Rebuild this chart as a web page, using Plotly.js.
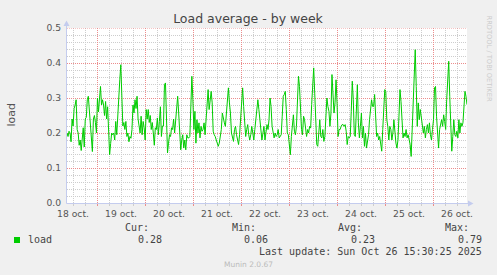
<!DOCTYPE html>
<html>
<head>
<meta charset="utf-8">
<script src="https://cdn.plot.ly/plotly-3.0.1.min.js"></script>
<style>html,body{margin:0;padding:0;background:#F0F0F0;overflow:hidden}</style>
</head>
<body>
<div id="chart" style="width:497px;height:275px"></div>
<script>
// ---------------- data ----------------
const chartTitle = "Load average - by week";
const yAxisTitle = "load";
const seriesName = "load";
const rangeStart = [2025, 9, 18, 9, 0];   // Oct 18 09:00
const rangeEnd   = [2025, 9, 26, 17, 0];  // Oct 26 17:00
const yTickVals = [0, 0.1, 0.2, 0.3, 0.4, 0.5];

const loadOct18to20 = [0.20, 0.19, 0.205, 0.20, 0.175, 0.24, 0.22, 0.27, 0.28, 0.295,
  0.21, 0.20, 0.165, 0.18, 0.15, 0.19, 0.215, 0.16, 0.24, 0.245,
  0.295, 0.305, 0.27, 0.22, 0.18, 0.147, 0.24, 0.25, 0.23, 0.20,
  0.30, 0.26, 0.297, 0.333, 0.28, 0.295, 0.28, 0.25, 0.29, 0.24,
  0.275, 0.21, 0.138, 0.17, 0.20, 0.195, 0.20, 0.18, 0.233, 0.195,
  0.257, 0.333, 0.352, 0.395, 0.31, 0.22, 0.23, 0.21, 0.233, 0.19,
  0.20, 0.175, 0.19, 0.185, 0.21, 0.28, 0.257, 0.295, 0.27, 0.305,
  0.24, 0.215, 0.20, 0.248, 0.195, 0.233, 0.215, 0.18, 0.267, 0.24,
  0.267, 0.23, 0.25, 0.21, 0.23, 0.20, 0.165, 0.215, 0.21, 0.243,
  0.195, 0.233, 0.275, 0.19, 0.22, 0.22, 0.338, 0.343, 0.23, 0.143];

const loadOct20to23 = [0.171, 0.195, 0.19, 0.215, 0.21, 0.24, 0.20, 0.243, 0.275, 0.305,
  0.257, 0.20, 0.152, 0.18, 0.195, 0.157, 0.18, 0.152, 0.195, 0.186,
  0.186, 0.19, 0.295, 0.362, 0.295, 0.21, 0.262, 0.171, 0.238, 0.20,
  0.229, 0.186, 0.219, 0.205, 0.21, 0.229, 0.195, 0.238, 0.267, 0.324,
  0.267, 0.30, 0.319, 0.286, 0.205, 0.195, 0.19, 0.18, 0.171, 0.162,
  0.171, 0.19, 0.21, 0.257, 0.238, 0.229, 0.219, 0.257, 0.295, 0.329,
  0.286, 0.257, 0.20, 0.19, 0.176, 0.21, 0.219, 0.195, 0.18, 0.167,
  0.195, 0.238, 0.286, 0.329, 0.276, 0.219, 0.19, 0.21, 0.224, 0.195,
  0.18, 0.195, 0.219, 0.20, 0.18, 0.21, 0.238, 0.262, 0.295, 0.267,
  0.238, 0.205, 0.18, 0.20, 0.219, 0.18, 0.20, 0.224, 0.21, 0.238,
  0.30, 0.276, 0.219, 0.195, 0.186, 0.20, 0.19, 0.195, 0.21, 0.186,
  0.19, 0.195, 0.248, 0.305, 0.31, 0.319, 0.267, 0.20, 0.195, 0.171,
  0.138, 0.19, 0.238, 0.252, 0.205, 0.195, 0.219, 0.286, 0.362, 0.333,
  0.257, 0.21, 0.195, 0.248, 0.238, 0.219, 0.19, 0.21, 0.20, 0.219,
  0.214, 0.281, 0.343, 0.386, 0.314, 0.219, 0.167, 0.162, 0.205, 0.238,
  0.19, 0.186, 0.21, 0.176, 0.19, 0.238, 0.30, 0.276, 0.262];

const loadOct23to26 = [0.219, 0.257, 0.367, 0.305, 0.257, 0.286, 0.352, 0.286, 0.19, 0.21,
  0.21, 0.219, 0.224, 0.224, 0.219, 0.224, 0.205, 0.167, 0.19, 0.186,
  0.19, 0.262, 0.348, 0.295, 0.195, 0.19, 0.281, 0.338, 0.229, 0.186,
  0.219, 0.257, 0.186, 0.219, 0.162, 0.20, 0.157, 0.171, 0.195, 0.238,
  0.267, 0.295, 0.276, 0.276, 0.31, 0.252, 0.19, 0.20, 0.18, 0.19,
  0.162, 0.148, 0.21, 0.252, 0.324, 0.319, 0.238, 0.219, 0.18, 0.219,
  0.21, 0.18, 0.20, 0.238, 0.20, 0.171, 0.157, 0.18, 0.248, 0.324,
  0.29, 0.219, 0.186, 0.20, 0.19, 0.21, 0.186, 0.195, 0.18, 0.167,
  0.133, 0.21, 0.286, 0.381, 0.438, 0.333, 0.219, 0.286, 0.238, 0.267,
  0.238, 0.21, 0.20, 0.219, 0.186, 0.21, 0.224, 0.20, 0.229, 0.195,
  0.18, 0.21, 0.238, 0.329, 0.333, 0.248, 0.195, 0.157, 0.21, 0.229,
  0.238, 0.219, 0.252, 0.233, 0.21, 0.295, 0.367, 0.405, 0.305, 0.186,
  0.148, 0.19, 0.238, 0.195, 0.19, 0.205, 0.186, 0.238, 0.20, 0.229,
  0.219, 0.229, 0.276, 0.319, 0.305, 0.281];

const statLabels = ["Cur:", "Min:", "Avg:", "Max:"];
const statValues = ["0.28", "0.06", "0.23", "0.79"];
const lastUpdate = "Last update: Sun Oct 26 15:30:25 2025";
const footerText = "Munin 2.0.67";
const sideText = "RRDTOOL / TOBI OETIKER";

// ---------------- build ----------------
const loadValues = loadOct18to20.concat(loadOct20to23, loadOct23to26);
const t0 = Date.UTC.apply(null, rangeStart);
const t1 = Date.UTC.apply(null, rangeEnd);
const step = (t1 - t0) / (loadValues.length - 1);
const times = loadValues.map((v, i) => t0 + i * step);

const W = 497, H = 275, L = 67, R = 30, T = 28, B = 72;
const PW = W - L - R, PH = H - T - B;
const px = x => (x - L) / PW;
const py = y => (H - B - y) / PH;

const majorGrid = '#EC8C8C';
const minorGrid = '#CDCDCD';
const axisBlue = '#C4CCEE';
const dotDash = '1px,1px';

const statLabelRight = [150, 256.7, 362.7, 470];
const statValueRight = [162.7, 269.3, 375.7, 482.7];

const mono = {family: 'DejaVu Sans Mono', size: 10, color: '#444'};
const ann = [];
function addText(text, x, y, opts) {
  ann.push(Object.assign({text: text, xref: 'paper', yref: 'paper', x: px(x), y: py(y),
    showarrow: false, borderpad: 0, xanchor: 'left', yanchor: 'middle', font: mono}, opts || {}));
}
addText(yAxisTitle, 11, 114.5, {textangle: -90, xanchor: 'center', font: {family: 'DejaVu Sans', size: 11, color: '#555'}});
addText(sideText, 488.5, 58, {textangle: 90, xanchor: 'center', font: {family: 'DejaVu Sans', size: 6.7, color: '#CCCCCC'}});
statLabels.forEach((s, i) => addText(s, statLabelRight[i], 227.5, {xanchor: 'right'}));
addText(seriesName, 26.7, 239.5);
statValues.forEach((s, i) => addText(s, statValueRight[i], 239.5, {xanchor: 'right'}));
addText(lastUpdate, 482.7, 251.5, {xanchor: 'right'});
addText(footerText, 248, 264, {xanchor: 'center', font: {family: 'DejaVu Sans', size: 7.5, color: '#BBBBBB'}});

const shapes = [
  // top major grid line at 0.5
  {type: 'line', xref: 'paper', yref: 'y', x0: 0, x1: 1, y0: 0.5, y1: 0.5, line: {color: majorGrid, width: 1, dash: dotDash}},
  // y axis line with arrow
  {type: 'line', xref: 'paper', yref: 'paper', x0: px(66.5), x1: px(66.5), y0: py(203.5), y1: py(24), line: {color: axisBlue, width: 1}},
  {type: 'path', xref: 'paper', yref: 'paper', path: `M ${px(63.5)} ${py(26)} L ${px(69.5)} ${py(26)} L ${px(66.5)} ${py(20.5)} Z`, fillcolor: axisBlue, line: {width: 0}},
  // x axis line with arrow
  {type: 'line', xref: 'paper', yref: 'paper', x0: px(66.5), x1: px(470), y0: py(203.5), y1: py(203.5), line: {color: axisBlue, width: 1}},
  {type: 'path', xref: 'paper', yref: 'paper', path: `M ${px(468)} ${py(200.5)} L ${px(468)} ${py(206.5)} L ${px(473.5)} ${py(203.5)} Z`, fillcolor: axisBlue, line: {width: 0}},
  // legend swatch
  {type: 'rect', xref: 'paper', yref: 'paper', x0: px(14), x1: px(20), y0: py(243), y1: py(237), fillcolor: '#00CC00', line: {width: 0}}
];

const data = [{
  type: 'scatter', mode: 'lines', x: times, y: loadValues, name: seriesName,
  line: {color: '#00CC00', width: 1}, hoverinfo: 'skip'
}];

const layout = {
  width: W, height: H,
  margin: {l: L, r: R, t: T, b: B, pad: 0},
  paper_bgcolor: '#F0F0F0', plot_bgcolor: '#FFFFFF',
  showlegend: false,
  font: {family: 'DejaVu Sans', color: '#555'},
  title: {text: chartTitle, xref: 'container', yref: 'container', x: 248 / W, y: 1 - 19 / H,
    xanchor: 'center', yanchor: 'middle', font: {family: 'DejaVu Sans', size: 12.5, color: '#444'}},
  xaxis: {
    type: 'date', range: [t0, t1], tick0: '2025-10-18', dtick: 86400000,
    ticklabelmode: 'period', tickformat: '%d oct.',
    showgrid: true, gridcolor: majorGrid, griddash: dotDash, gridwidth: 1,
    showline: false, zeroline: false,
    ticks: 'outside', ticklen: 2, tickcolor: majorGrid,
    tickfont: {family: 'DejaVu Sans', size: 9.2, color: '#555'},
    minor: {tick0: '2025-10-18', dtick: 6 * 3600000, showgrid: true, gridcolor: minorGrid, griddash: dotDash,
      ticks: 'outside', ticklen: 2, tickcolor: minorGrid},
    fixedrange: true
  },
  yaxis: {
    range: [0, 0.5], tickvals: yTickVals, tickformat: '.1f',
    showgrid: true, gridcolor: majorGrid, griddash: dotDash, gridwidth: 1,
    showline: false, zeroline: false, ticks: '', ticklabelstandoff: 5,
    tickfont: {family: 'DejaVu Sans', size: 9.2, color: '#555'},
    minor: {tick0: 0, dtick: 0.02, showgrid: true, gridcolor: minorGrid, griddash: dotDash},
    fixedrange: true
  },
  annotations: ann,
  shapes: shapes
};

Plotly.newPlot('chart', data, layout, {staticPlot: true, displayModeBar: false});
</script>
</body>
</html>
